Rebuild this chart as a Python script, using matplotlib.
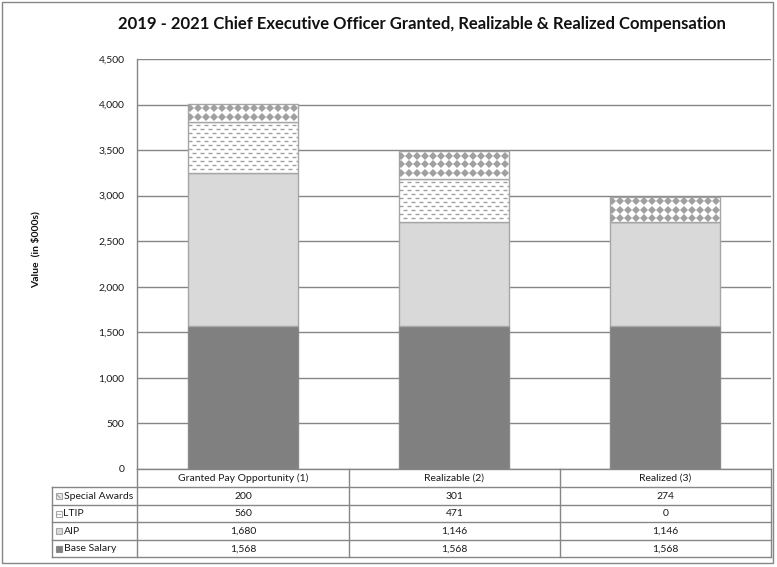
import matplotlib
matplotlib.use('Agg')
import matplotlib.pyplot as plt
from matplotlib.patches import Rectangle
import numpy as np

# ---------------- data ----------------
categories = ["Granted Pay Opportunity (1)", "Realizable (2)", "Realized (3)"]
base_salary = [1568, 1568, 1568]
aip = [1680, 1146, 1146]
ltip = [560, 471, 0]
special_awards = [200, 301, 274]
y_ticks = [0, 500, 1000, 1500, 2000, 2500, 3000, 3500, 4000, 4500]
title = "2019 - 2021 Chief Executive Officer Granted, Realizable & Realized Compensation"
y_label = "Value  (in $000s)"

plt.rcParams['font.family'] = ['Lato', 'DejaVu Sans']
plt.rcParams['lines.scale_dashes'] = False

W, H = 777, 567
fig = plt.figure(figsize=(W / 100, H / 100), dpi=100)

L, R, T, B = 137, 771, 59, 469
ax = fig.add_axes([L / W, 1 - B / H, (R - L) / W, (B - T) / H])
ax.set_xlim(-0.5, len(categories) - 0.5)
ax.set_ylim(0, 4500)
ax.set_yticks(y_ticks)
ax.set_yticklabels([f"{v:,}" for v in y_ticks], fontsize=7.5, color='#1a1a1a')
ax.tick_params(axis='y', length=0, pad=9)
ax.set_xticks([])
ax.grid(axis='y', color='#868686', linewidth=1)
ax.set_axisbelow(True)
for s in ['top', 'right']:
    ax.spines[s].set_visible(False)
for s in ['left', 'bottom']:
    ax.spines[s].set_color('#868686')
    ax.spines[s].set_linewidth(1)

GRID = '#a0a0a0'
x = np.arange(len(categories))
bw = 0.52
px_x = (R - L) / len(categories)          # px per x unit
px_y = (B - T) / 4500.0                   # px per y unit

b0 = np.zeros(3)
ax.bar(x, base_salary, bw, bottom=b0, color='#808080', edgecolor='#8a8a8a', linewidth=1, zorder=2)
b1 = b0 + np.array(base_salary)
ax.bar(x, aip, bw, bottom=b1, color='#d9d9d9', edgecolor='#a6a6a6', linewidth=1, zorder=2)
b2 = b1 + np.array(aip)
ltip_bars = ax.bar(x, ltip, bw, bottom=b2, color='white', edgecolor='#a6a6a6', linewidth=1, zorder=2)
b3 = b2 + np.array(ltip)
sa_bars = ax.bar(x, special_awards, bw, bottom=b3, color='white', edgecolor='#a6a6a6', linewidth=1, zorder=2)

# dashed pattern for LTIP
for r in ltip_bars.patches:
    x0, y0, w, h = r.get_x(), r.get_y(), r.get_width(), r.get_height()
    if h <= 0:
        continue
    top_px = (y0 + h) * px_y
    k = 0
    yp = top_px - 3
    while yp > y0 * px_y + 1:
        yy = yp / px_y
        off = 0 if k % 2 == 0 else 4
        ln, = ax.plot([x0, x0 + w], [yy, yy], color=GRID, linewidth=1,
                      linestyle=(off * 0.72, (4 * 0.72, 4 * 0.72)), zorder=3)
        ln.set_clip_path(r)
        yp -= 4
        k += 1

# diamond pattern for Special Awards
for r in sa_bars.patches:
    x0, y0, w, h = r.get_x(), r.get_y(), r.get_width(), r.get_height()
    if h <= 0:
        continue
    top_px = (y0 + h) * px_y
    yp = top_px - 4.5
    rows = []
    while yp > y0 * px_y - 2:
        rows.append(yp / px_y)
        yp -= 8.5
    xs = []
    xp = x0 * px_x + 2
    while xp < (x0 + w) * px_x + 3:
        xs.append(xp / px_x)
        xp += 8
    for yy in rows:
        ln, = ax.plot(xs, [yy] * len(xs), linestyle='none', marker='D', markersize=4.2,
                      color=GRID, markeredgewidth=0, zorder=3)
        ln.set_clip_path(r)

# ---------------- overlay: table, title, border ----------------
ov = fig.add_axes([0, 0, 1, 1], zorder=5)
ov.set_xlim(0, W)
ov.set_ylim(H, 0)
ov.axis('off')
ov.patch.set_alpha(0)

LC = '#868686'
col_edges = [L, 349, 560, R]
row_edges = [487, 504.5, 522, 539.5, 557]
tbl_left = 52

for cx in col_edges:
    ov.plot([cx, cx], [B, row_edges[-1]], color=LC, lw=1)
ov.plot([tbl_left, tbl_left], [row_edges[0], row_edges[-1]], color=LC, lw=1)
for ry in row_edges:
    ov.plot([tbl_left, R], [ry, ry], color=LC, lw=1)

col_centers = [(col_edges[i] + col_edges[i + 1]) / 2 for i in range(3)]
for i, c in enumerate(categories):
    ov.text(col_centers[i], (B + row_edges[0]) / 2 + 0.5, c, ha='center', va='center',
            fontsize=7.5, color='#1a1a1a')

rows = [("Special Awards", special_awards), ("LTIP", ltip), ("AIP", aip), ("Base Salary", base_salary)]
for j, (name, vals) in enumerate(rows):
    yc = (row_edges[j] + row_edges[j + 1]) / 2 + 0.5
    ov.text(63.5, yc, name, ha='left', va='center', fontsize=7.5, color='#1a1a1a')
    for i, v in enumerate(vals):
        ov.text(col_centers[i], yc, f"{v:,}", ha='center', va='center', fontsize=7.5, color='#1a1a1a')
    # legend key
    kx, ky, ks = 55.5, yc - 3, 6
    if name == "Base Salary":
        ov.add_patch(Rectangle((kx, ky), ks, ks, facecolor='#808080', edgecolor='#8a8a8a', lw=0.8))
    elif name == "AIP":
        ov.add_patch(Rectangle((kx, ky), ks, ks, facecolor='#d9d9d9', edgecolor='#a6a6a6', lw=0.8))
    elif name == "LTIP":
        ov.add_patch(Rectangle((kx, ky), ks, ks, facecolor='white', edgecolor='#a6a6a6', lw=0.8))
        ov.plot([kx + 1.5, kx + 4.5], [ky + 3, ky + 3], color='#b0b0b0', lw=0.8)
    else:
        ov.add_patch(Rectangle((kx, ky), ks, ks, facecolor='#e8e8e8', edgecolor='#a6a6a6', lw=0.8))
        ov.plot([kx + 1.5, kx + 4.5], [ky + 1.5, ky + 4.5], color='#a0a0a0', lw=0.8)

ov.text(422, 24, title, ha='center', va='center', fontsize=12, fontweight='bold', color='#111111')
ov.text(36, 250, y_label, ha='center', va='center', rotation=90, fontsize=7.5,
        fontweight='bold', color='#111111')

ov.add_patch(Rectangle((1.5, 1.5), 771, 561.5, facecolor='none', edgecolor=LC, lw=1))

fig.savefig('out.png', dpi=100)
